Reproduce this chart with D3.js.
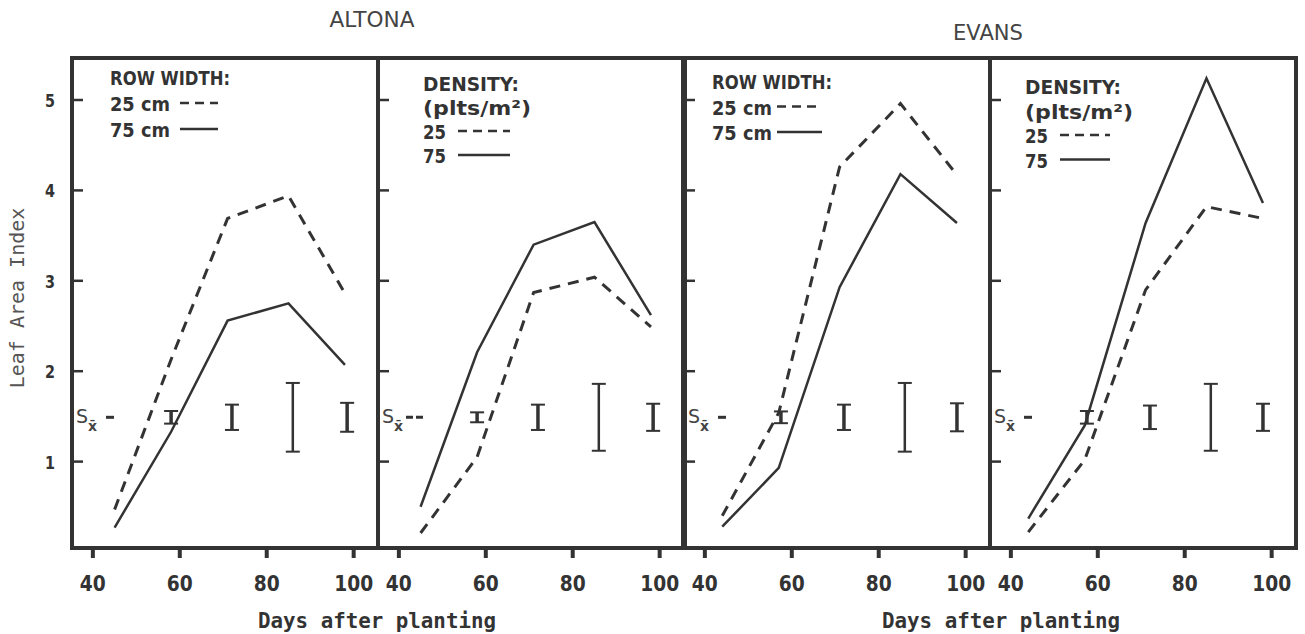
<!DOCTYPE html>
<html lang="en">
<head>
  <meta charset="UTF-8">
  <title>Leaf Area Index</title>
  <script src="https://d3js.org/d3.v7.min.js"></script>
  <style>
    body { margin: 0; background: #fff; }
    svg { display: block; }
    .cond { font-family: "DejaVu Sans", sans-serif; font-weight: bold; fill: #333; }
    .plain { font-family: "DejaVu Sans", sans-serif; fill: #444; }
    .mono { font-family: "DejaVu Sans Mono", monospace; fill: #555; }
  </style>
</head>
<body>
<svg width="1305" height="634"></svg>
<script>
  // sampling dates (days after planting)
  const altonaDays = [45, 58, 71, 85, 98];
  const evansDays = [44, 57, 71, 85, 98];

  // leaf area index
  const altonaRow25 = [0.47, 2.13, 3.69, 3.94, 2.86];
  const altonaRow75 = [0.27, 1.33, 2.56, 2.75, 2.07];
  const altonaDens25 = [0.21, 1.05, 2.87, 3.04, 2.49];
  const altonaDens75 = [0.50, 2.21, 3.40, 3.65, 2.62];
  const evansRow25 = [0.40, 1.54, 4.26, 4.96, 4.17];
  const evansRow75 = [0.28, 0.93, 2.93, 4.18, 3.64];
  const evansDens25 = [0.22, 1.02, 2.90, 3.82, 3.69];
  const evansDens75 = [0.37, 1.40, 3.64, 5.24, 3.86];

  // standard error bars (half length), drawn around sxCenter
  const altonaSeDays = [58, 72, 86, 98.5];
  const evansSeDays = [57.5, 72, 86, 98];
  const altonaRowSe = [0.07, 0.14, 0.38, 0.16];
  const altonaDensSe = [0.055, 0.14, 0.37, 0.15];
  const evansRowSe = [0.065, 0.14, 0.38, 0.155];
  const evansDensSe = [0.07, 0.13, 0.37, 0.15];
  const sxCenter = 1.49;

  const yTicks = [1, 2, 3, 4, 5];
  const xTicks = [40, 60, 80, 100];
  const locations = ["ALTONA", "EVANS"];

  const panels = [
    { days: altonaDays, s25: altonaRow25, s75: altonaRow75, seDays: altonaSeDays, se: altonaRowSe,
      legend: ["ROW WIDTH:"], k25: "25 cm", k75: "75 cm" },
    { days: altonaDays, s25: altonaDens25, s75: altonaDens75, seDays: altonaSeDays, se: altonaDensSe,
      legend: ["DENSITY:", "(plts/m²)"], k25: "25", k75: "75" },
    { days: evansDays, s25: evansRow25, s75: evansRow75, seDays: evansSeDays, se: evansRowSe,
      legend: ["ROW WIDTH:"], k25: "25 cm", k75: "75 cm" },
    { days: evansDays, s25: evansDens25, s75: evansDens75, seDays: evansSeDays, se: evansDensSe,
      legend: ["DENSITY:", "(plts/m²)"], k25: "25", k75: "75" }
  ];

  // legend placement per panel (px from panel left / absolute baseline)
  const legendPos = [
    { dx: 38, y0: 85, step: 26, sx: 70, sw: 38 },
    { dx: 45, y0: 91, step: 24, sx: 35, sw: 52 },
    { dx: 28, y0: 89, step: 25.5, sx: 65, sw: 45 },
    { dx: 35, y0: 94, step: 24.5, sx: 35, sw: 50 }
  ];

  const svg = d3.select("svg");
  const ink = "#333";
  const frameTop = 58, frameBottom = 548, panelW = 306, firstLeft = 72;

  const y = d3.scaleLinear().domain([0, 5]).range([552, 100]);

  panels.forEach((p, i) => {
    const left = firstLeft + i * panelW;
    const x = d3.scaleLinear().domain([35.2, 105.6]).range([left, left + panelW]);
    const g = svg.append("g");

    // frame
    g.append("rect")
      .attr("x", left).attr("y", frameTop)
      .attr("width", panelW).attr("height", frameBottom - frameTop)
      .attr("fill", "none").attr("stroke", ink).attr("stroke-width", 4);

    // y ticks (inward)
    g.selectAll(".yt").data(yTicks).enter().append("line")
      .attr("x1", left).attr("x2", left + 11)
      .attr("y1", d => y(d)).attr("y2", d => y(d))
      .attr("stroke", ink).attr("stroke-width", 2.5);

    if (i === 0) {
      g.selectAll(".yl").data(yTicks).enter().append("text")
        .attr("class", "cond")
        .attr("x", left - 22).attr("y", d => y(d) + 7)
        .attr("text-anchor", "middle").attr("font-size", 18)
        .attr("textLength", 10).attr("lengthAdjust", "spacingAndGlyphs")
        .text(d => d);
    }

    // x ticks (outward)
    g.selectAll(".xt").data(xTicks).enter().append("line")
      .attr("x1", d => x(d)).attr("x2", d => x(d))
      .attr("y1", frameBottom).attr("y2", frameBottom + 10)
      .attr("stroke", ink).attr("stroke-width", 4);

    g.selectAll(".xl").data(xTicks).enter().append("text")
      .attr("class", "cond")
      .attr("x", d => x(d)).attr("y", 591)
      .attr("text-anchor", "middle").attr("font-size", 22)
      .attr("textLength", d => String(d).length * 13)
      .attr("lengthAdjust", "spacingAndGlyphs")
      .text(d => d);

    // data lines
    const line = d3.line().x(d => x(d[0])).y(d => y(d[1]));
    g.append("path")
      .datum(d3.zip(p.days, p.s25))
      .attr("d", line).attr("fill", "none")
      .attr("stroke", ink).attr("stroke-width", 3)
      .attr("stroke-dasharray", "11,8");
    g.append("path")
      .datum(d3.zip(p.days, p.s75))
      .attr("d", line).attr("fill", "none")
      .attr("stroke", ink).attr("stroke-width", 2.5);

    // error bars
    const bars = g.selectAll(".eb").data(d3.zip(p.seDays, p.se)).enter().append("g");
    bars.append("line")
      .attr("x1", d => x(d[0])).attr("x2", d => x(d[0]))
      .attr("y1", d => y(sxCenter + d[1])).attr("y2", d => y(sxCenter - d[1]))
      .attr("stroke", ink).attr("stroke-width", d => d[1] > 0.3 ? 2.5 : 3.5);
    [1, -1].forEach(s => {
      bars.append("line")
        .attr("x1", d => x(d[0]) - 7).attr("x2", d => x(d[0]) + 7)
        .attr("y1", d => y(sxCenter + s * d[1])).attr("y2", d => y(sxCenter + s * d[1]))
        .attr("stroke", ink).attr("stroke-width", 2);
    });

    // S x-bar label
    const sx = g.append("text").attr("class", "plain")
      .attr("x", left + 4).attr("y", y(sxCenter) + 6)
      .attr("font-size", 19);
    sx.append("tspan").text("S");
    sx.append("tspan").attr("font-size", 14).attr("dy", 8).style("font-weight", "bold").text("x̄");
    g.append("line")
      .attr("x1", left + (i === 1 ? 28 : 34)).attr("x2", left + (i === 1 ? 45 : 42))
      .attr("y1", y(sxCenter)).attr("y2", y(sxCenter))
      .attr("stroke", ink).attr("stroke-width", 3)
      .attr("stroke-dasharray", i === 1 ? "7,3" : null);

    // legend
    const lp = legendPos[i];
    const lx = left + lp.dx;
    const fit = t => t.length <= 2 ? 23 : t.length * 12;
    p.legend.forEach((t, j) => {
      g.append("text").attr("class", "cond")
        .attr("x", lx).attr("y", lp.y0 + j * lp.step)
        .attr("font-size", 20)
        .attr("textLength", fit(t)).attr("lengthAdjust", "spacingAndGlyphs")
        .text(t);
    });
    const n = p.legend.length;
    [[p.k25, "9,6"], [p.k75, null]].forEach((k, j) => {
      const by = lp.y0 + (n + j) * lp.step;
      g.append("text").attr("class", "cond")
        .attr("x", lx).attr("y", by)
        .attr("font-size", 20)
        .attr("textLength", fit(k[0])).attr("lengthAdjust", "spacingAndGlyphs")
        .text(k[0]);
      g.append("line")
        .attr("x1", lx + lp.sx).attr("x2", lx + lp.sx + lp.sw)
        .attr("y1", by - 8).attr("y2", by - 8)
        .attr("stroke", ink).attr("stroke-width", 2.5)
        .attr("stroke-dasharray", k[1]);
    });
  });

  // heavier shared border between locations
  svg.append("line")
    .attr("x1", firstLeft + 2 * panelW).attr("x2", firstLeft + 2 * panelW)
    .attr("y1", frameTop).attr("y2", frameBottom)
    .attr("stroke", ink).attr("stroke-width", 6);

  // titles
  svg.selectAll(".loc").data(locations).enter().append("text")
    .attr("class", "plain")
    .attr("x", (d, i) => i === 0 ? 372 : 988)
    .attr("y", (d, i) => i === 0 ? 27 : 40)
    .attr("text-anchor", "middle").attr("font-size", 21)
    .attr("textLength", (d, i) => i === 0 ? 85 : 70)
    .attr("lengthAdjust", "spacingAndGlyphs")
    .text(d => d);

  svg.selectAll(".xlab").data([377, 1001]).enter().append("text")
    .attr("class", "mono")
    .attr("x", d => d).attr("y", 628)
    .attr("text-anchor", "middle").attr("font-size", 21)
    .attr("textLength", 238).attr("lengthAdjust", "spacingAndGlyphs")
    .style("font-weight", "bold").style("fill", "#333")
    .text("Days after planting");

  svg.append("text")
    .attr("class", "mono")
    .attr("transform", "translate(24,298) rotate(-90)")
    .attr("text-anchor", "middle").attr("font-size", 20)
    .text("Leaf Area Index");
</script>
</body>
</html>
